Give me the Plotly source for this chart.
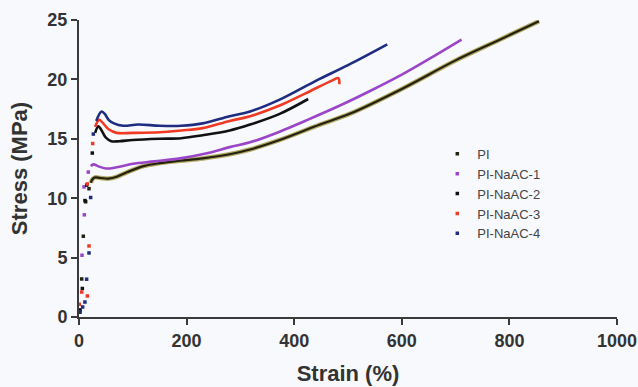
import plotly.graph_objects as go

# Initial loading points (sparse dots) and the dense stress-strain curve per sample
pi_dot_strain = [1, 5, 8, 12.4, 18.6]
pi_dot_stress = [0.4, 3.2, 6.8, 9.7, 10.8]
pi_strain = [22, 25, 30, 40, 55, 70, 90, 120, 150, 188, 230, 280, 318, 373, 448, 503, 600, 700, 780, 855]
pi_stress = [11.3, 11.6, 11.75, 11.7, 11.65, 11.8, 12.2, 12.7, 12.95, 13.15, 13.35, 13.7, 14.1, 14.9, 16.2, 17.1, 19.2, 21.6, 23.3, 24.9]

n1_dot_strain = [1.5, 5.6, 9.9, 9.3, 17.3]
n1_dot_stress = [0.5, 5.2, 8.6, 10.95, 12.2]
n1_strain = [22, 27, 35, 50, 70, 100, 140, 188, 240, 280, 318, 373, 420, 485, 540, 600, 650, 711]
n1_stress = [12.7, 12.85, 12.7, 12.5, 12.6, 12.9, 13.1, 13.35, 13.8, 14.3, 14.7, 15.6, 16.5, 17.8, 19.0, 20.4, 21.7, 23.35]

n2_dot_strain = [2, 6.2, 11.1, 14.3, 24.7]
n2_dot_stress = [0.6, 2.4, 9.8, 11.1, 13.8]
n2_strain = [30, 36, 42, 50, 60, 75, 100, 150, 190, 230, 280, 318, 373, 426]
n2_stress = [15.5, 16.05, 15.7, 15.1, 14.8, 14.8, 14.9, 15.0, 15.05, 15.3, 15.7, 16.2, 17.1, 18.35]

n3_dot_strain = [0.6, 5, 15.5, 18.6, 15.5, 25.4]
n3_dot_stress = [1.07, 2.1, 1.77, 5.98, 11.2, 14.6]
n3_strain = [30, 35, 38, 45, 55, 70, 100, 150, 190, 230, 280, 318, 373, 420, 470, 482, 484]
n3_stress = [16.0, 16.5, 16.6, 16.3, 15.8, 15.5, 15.5, 15.55, 15.7, 15.9, 16.5, 16.9, 17.8, 18.8, 19.9, 20.1, 19.6]

n4_dot_strain = [1.9, 6.8, 11, 14.2, 18.6, 21.7, 26.6]
n4_dot_stress = [0.42, 0.84, 1.26, 3.18, 5.39, 10.06, 15.4]
n4_strain = [32, 38, 42, 48, 55, 65, 82, 110, 150, 190, 230, 280, 318, 373, 441, 500, 573]
n4_stress = [16.5, 17.1, 17.3, 17.1, 16.6, 16.3, 16.1, 16.2, 16.1, 16.1, 16.3, 16.9, 17.3, 18.3, 19.9, 21.2, 22.95]

names = ["PI", "PI-NaAC-1", "PI-NaAC-2", "PI-NaAC-3", "PI-NaAC-4"]
colors = ["#22220f", "#9b45c9", "#111111", "#f03a24", "#1f2c80"]

x_ticks = [0, 200, 400, 600, 800, 1000]
y_ticks = [0, 5, 10, 15, 20, 25]

series = [
    (pi_dot_strain, pi_dot_stress, pi_strain, pi_stress),
    (n1_dot_strain, n1_dot_stress, n1_strain, n1_stress),
    (n2_dot_strain, n2_dot_stress, n2_strain, n2_stress),
    (n3_dot_strain, n3_dot_stress, n3_strain, n3_stress),
    (n4_dot_strain, n4_dot_stress, n4_strain, n4_stress),
]

fig = go.Figure()

# olive halo under the PI curve
fig.add_trace(go.Scatter(x=pi_strain, y=pi_stress, mode="lines",
                         line=dict(color="#b3a865", width=4.5, shape="spline"),
                         showlegend=False, hoverinfo="skip"))

for name, color, (dx, dy, cx, cy) in zip(names, colors, series):
    fig.add_trace(go.Scatter(x=cx, y=cy, mode="lines",
                             line=dict(color=color, width=2.6 if name != "PI" else 2.2, shape="spline"),
                             showlegend=False, legendgroup=name))
    fig.add_trace(go.Scatter(x=dx, y=dy, mode="markers", name=name, legendgroup=name,
                             marker=dict(color=color, size=3.5, symbol="square")))

axis_font = dict(family="Liberation Sans, Arial, sans-serif", size=18, color="#333333", weight="bold")
title_font = dict(family="Liberation Sans, Arial, sans-serif", size=22, color="#333333", weight="bold")

fig.update_layout(
    width=638, height=387,
    margin=dict(l=79, r=21, t=20, b=70),
    paper_bgcolor="#f7f9fc",
    plot_bgcolor="#f7f9fc",
    showlegend=True,
    legend=dict(x=0.666, y=0.6, xanchor="left", yanchor="top",
                bgcolor="rgba(0,0,0,0)", tracegroupgap=0,
                font=dict(family="Liberation Sans, Arial, sans-serif", size=13, color="#444444")),
    xaxis=dict(range=[0, 1000], tickvals=x_ticks, showgrid=False, zeroline=False,
               automargin=False,
               showline=True, linecolor="#3a3a3a", linewidth=2,
               ticks="outside", ticklen=6, tickwidth=2, tickcolor="#3a3a3a",
               tickfont=axis_font,
               title=dict(text="Strain (%)", font=title_font, standoff=16)),
    yaxis=dict(range=[0, 25], tickvals=y_ticks, showgrid=False, zeroline=False,
               automargin=False,
               showline=True, linecolor="#3a3a3a", linewidth=2,
               ticks="outside", ticklen=6, tickwidth=2, tickcolor="#3a3a3a",
               tickfont=axis_font,
               title=dict(text="Stress (MPa)", font=title_font, standoff=14)),
)

fig.write_html("out.html")
